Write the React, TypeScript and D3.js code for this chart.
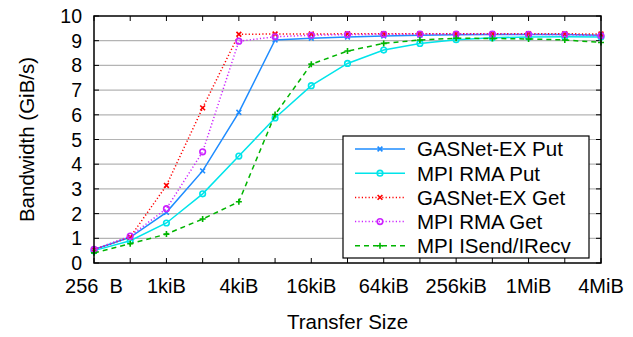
import { useEffect, useRef } from "react"
import * as d3 from "d3"

// transfer sizes in bytes (x axis, log2)
const sizes = [
  256, 512, 1024, 2048, 4096, 8192, 16384, 32768, 65536, 131072, 262144,
  524288, 1048576, 2097152, 4194304,
]
const labelSizes = [256, 1024, 4096, 16384, 65536, 262144, 1048576, 4194304]
const sizeLabels = ["256  B", "1kiB", "4kiB", "16kiB", "64kiB", "256kiB", "1MiB", "4MiB"]
const yTicks = [0, 1, 2, 3, 4, 5, 6, 7, 8, 9, 10]

const seriesNames = [
  "GASNet-EX Put",
  "MPI RMA Put",
  "GASNet-EX Get",
  "MPI RMA Get",
  "MPI ISend/IRecv",
]

// bandwidth in GiB/s
const gasnetPut = [0.55, 1.04, 2.05, 3.73, 6.1, 9.03, 9.1, 9.15, 9.19, 9.22, 9.24, 9.25, 9.25, 9.25, 9.22]
const mpiRmaPut = [0.5, 0.9, 1.62, 2.8, 4.33, 5.87, 7.18, 8.08, 8.62, 8.89, 9.04, 9.12, 9.15, 9.16, 9.15]
const gasnetGet = [0.55, 1.05, 3.14, 6.28, 9.26, 9.27, 9.27, 9.28, 9.28, 9.28, 9.28, 9.28, 9.28, 9.28, 9.27]
const mpiRmaGet = [0.55, 1.09, 2.2, 4.5, 8.98, 9.16, 9.22, 9.25, 9.26, 9.27, 9.27, 9.27, 9.26, 9.25, 9.2]
const isendIrecv = [0.41, 0.78, 1.17, 1.78, 2.48, 6.01, 8.05, 8.58, 8.89, 9.03, 9.1, 9.09, 9.07, 9.03, 8.93]

const seriesValues = [gasnetPut, mpiRmaPut, gasnetGet, mpiRmaGet, isendIrecv]

export default function App() {
  const svgRef = useRef<SVGSVGElement>(null)

  useEffect(() => {
    if (!svgRef.current) return

    const width = 633
    const height = 337
    const margin = { top: 16, right: 32, bottom: 74, left: 94 }
    const font = "'Liberation Sans', Arial, sans-serif"

    d3.select(svgRef.current).selectAll("*").remove()

    const svg = d3
      .select(svgRef.current)
      .attr("width", width)
      .attr("height", height)
      .style("font-family", font)

    const x = d3
      .scaleLog()
      .base(2)
      .domain([256, 4194304])
      .range([margin.left, width - margin.right])

    const y = d3
      .scaleLinear()
      .domain([0, 10])
      .range([height - margin.bottom, margin.top])

    const x0 = margin.left
    const x1 = width - margin.right
    const y0 = height - margin.bottom
    const y1 = margin.top

    // grid
    svg
      .append("g")
      .selectAll("line")
      .data(yTicks.slice(1, -1))
      .join("line")
      .attr("x1", x0)
      .attr("x2", x1)
      .attr("y1", (d) => y(d))
      .attr("y2", (d) => y(d))
      .attr("stroke", "#b4b4b4")
      .attr("stroke-width", 1.2)

    // ticks, inward on all sides
    const ticks = svg.append("g").attr("stroke", "#000").attr("stroke-width", 1)
    sizes.forEach((s) => {
      ticks.append("line").attr("x1", x(s)).attr("x2", x(s)).attr("y1", y0).attr("y2", y0 - 5)
      ticks.append("line").attr("x1", x(s)).attr("x2", x(s)).attr("y1", y1).attr("y2", y1 + 5)
    })
    yTicks.forEach((t) => {
      ticks.append("line").attr("x1", x0).attr("x2", x0 + 5).attr("y1", y(t)).attr("y2", y(t))
      ticks.append("line").attr("x1", x1).attr("x2", x1 - 5).attr("y1", y(t)).attr("y2", y(t))
    })

    // tick labels
    svg
      .append("g")
      .selectAll("text")
      .data(yTicks)
      .join("text")
      .attr("x", x0 - 12)
      .attr("y", (d) => y(d))
      .attr("dy", "0.36em")
      .attr("text-anchor", "end")
      .attr("font-size", 19.5)
      .text((d) => d)

    svg
      .append("g")
      .selectAll("text")
      .data(labelSizes)
      .join("text")
      .attr("x", (d) => x(d))
      .attr("y", 293)
      .attr("text-anchor", "middle")
      .attr("font-size", 20)
      .style("white-space", "pre")
      .text((d, i) => sizeLabels[i])

    // axis titles
    svg
      .append("text")
      .attr("x", (x0 + x1) / 2)
      .attr("y", 329)
      .attr("text-anchor", "middle")
      .attr("font-size", 20.5)
      .text("Transfer Size")

    svg
      .append("text")
      .attr("transform", `translate(34,${(y0 + y1) / 2}) rotate(-90)`)
      .attr("text-anchor", "middle")
      .attr("font-size", 20.5)
      .text("Bandwidth (GiB/s)")

    const styles = [
      { color: "#1e8cff", dash: null, marker: "x" },
      { color: "#00e4ea", dash: null, marker: "o" },
      { color: "#ff0000", dash: "1.2,2.2", marker: "x" },
      { color: "#cc22ff", dash: "1.2,2.2", marker: "o" },
      { color: "#00b400", dash: "5,4", marker: "+" },
    ]

    const drawMarker = (g: any, kind: string, color: string, cx: number, cy: number) => {
      if (kind === "x") {
        g.append("path")
          .attr("d", `M${cx - 2.4},${cy - 2.4}L${cx + 2.4},${cy + 2.4}M${cx - 2.4},${cy + 2.4}L${cx + 2.4},${cy - 2.4}`)
          .attr("stroke", color)
          .attr("stroke-width", 1.6)
          .attr("fill", "none")
      } else if (kind === "o") {
        g.append("circle")
          .attr("cx", cx)
          .attr("cy", cy)
          .attr("r", 2.8)
          .attr("stroke", color)
          .attr("stroke-width", 1.6)
          .attr("fill", "none")
      } else {
        g.append("path")
          .attr("d", `M${cx - 3},${cy}L${cx + 3},${cy}M${cx},${cy - 3}L${cx},${cy + 3}`)
          .attr("stroke", color)
          .attr("stroke-width", 1.6)
          .attr("fill", "none")
      }
    }

    const line = d3
      .line<number>()
      .x((d, i) => x(sizes[i]))
      .y((d) => y(d))

    // series
    seriesValues.forEach((vals, k) => {
      const st = styles[k]
      const g = svg.append("g")
      g.append("path")
        .attr("d", line(vals))
        .attr("fill", "none")
        .attr("stroke", st.color)
        .attr("stroke-width", 1.5)
        .attr("stroke-dasharray", st.dash)
      vals.forEach((v, i) => drawMarker(g, st.marker, st.color, x(sizes[i]), y(v)))
    })

    // frame
    svg
      .append("rect")
      .attr("x", x0)
      .attr("y", y1)
      .attr("width", x1 - x0)
      .attr("height", y0 - y1)
      .attr("fill", "none")
      .attr("stroke", "#000")
      .attr("stroke-width", 1.5)

    // legend
    const legend = svg.append("g")
    legend
      .append("rect")
      .attr("x", 343)
      .attr("y", 136)
      .attr("width", 246)
      .attr("height", 122)
      .attr("fill", "#fff")
      .attr("stroke", "#000")
      .attr("stroke-width", 1.2)

    seriesNames.forEach((name, k) => {
      const st = styles[k]
      const ly = 149 + k * 24.2
      legend
        .append("line")
        .attr("x1", 355)
        .attr("x2", 405)
        .attr("y1", ly)
        .attr("y2", ly)
        .attr("stroke", st.color)
        .attr("stroke-width", 1.5)
        .attr("stroke-dasharray", st.dash)
      drawMarker(legend, st.marker, st.color, 380, ly)
      legend
        .append("text")
        .attr("x", 417)
        .attr("y", ly)
        .attr("dy", "0.36em")
        .attr("font-size", 20.5)
        .text(name)
    })
  }, [])

  return (
    <svg
      ref={svgRef}
      style={{ position: "absolute", left: 0, top: 0, background: "#fff" }}
    />
  )
}
